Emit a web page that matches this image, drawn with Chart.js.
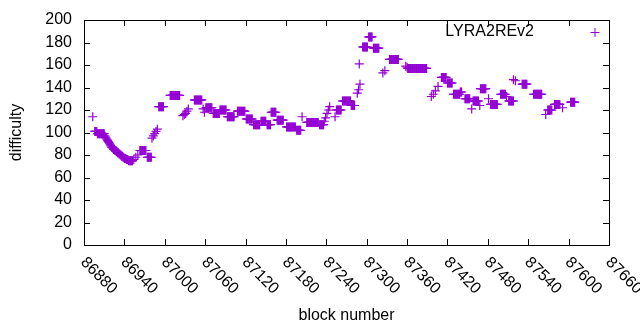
<!DOCTYPE html>
<html>
<head>
<meta charset="utf-8">
<script src="https://cdn.jsdelivr.net/npm/chart.js@4"></script>
<style>
  body { margin: 0; background: #fff; }
  canvas { display: block; }
</style>
</head>
<body>
<canvas id="chart" width="640" height="330"></canvas>
<script>
// block numbers and difficulty (one line per run)
var blocks = [
  86893,
  86896, 86897, 86898, 86899,
  86900, 86901, 86902, 86903, 86904, 86905, 86906, 86907, 86908, 86909, 86910,
  86911, 86912, 86913, 86914, 86915, 86916, 86917, 86918, 86919, 86920,
  86921, 86922, 86923, 86924, 86925, 86926, 86927, 86928, 86929, 86930,
  86931, 86932, 86933, 86934, 86935, 86936, 86937, 86938, 86939, 86940,
  86941, 86942, 86943, 86944, 86945, 86946, 86947, 86948, 86949, 86950, 86951, 86952,
  86954, 86957, 86960,
  86963, 86964, 86965, 86966, 86967, 86968, 86969, 86970, 86971, 86972,
  86974, 86975, 86976, 86977, 86978, 86979, 86980,
  86981, 86983, 86985, 86987, 86989,
  86991, 86992, 86993, 86994, 86995, 86996, 86997, 86998,
  87008, 87009, 87010, 87011, 87012, 87013, 87014, 87015, 87016, 87017, 87018, 87019, 87020, 87021, 87022,
  87027, 87029, 87031, 87033, 87035,
  87044, 87045, 87046, 87047, 87048, 87049, 87050, 87051, 87052, 87053, 87054, 87055,
  87057, 87059,
  87061, 87062, 87063, 87064, 87065, 87066, 87067, 87068, 87069, 87070,
  87072, 87073, 87074, 87075, 87076, 87077, 87078, 87079, 87080, 87081,
  87082, 87083, 87084, 87085, 87086, 87087, 87088, 87089, 87090, 87091,
  87093, 87094, 87095, 87096, 87097, 87098, 87099, 87100, 87101, 87102, 87103,
  87108, 87109, 87110, 87111, 87112, 87113, 87114, 87115, 87116, 87117, 87118, 87119,
  87121, 87122, 87123, 87124, 87125, 87126, 87127, 87128, 87129, 87130,
  87132, 87133, 87134, 87135, 87136, 87137, 87138, 87139, 87140, 87141,
  87143, 87144, 87145, 87146, 87147, 87148, 87149, 87150,
  87152, 87153, 87154, 87155, 87156, 87157,
  87158, 87159, 87160, 87161, 87162, 87163, 87164, 87165,
  87167, 87168, 87169, 87170, 87171, 87172, 87173, 87174, 87175, 87176,
  87181, 87182, 87183, 87184, 87185, 87186, 87187, 87188, 87189, 87190, 87191, 87192, 87193, 87194,
  87196, 87197, 87198, 87199, 87200, 87201, 87202,
  87204,
  87211, 87212, 87213, 87214, 87215, 87216, 87217, 87218, 87219, 87220,
  87221, 87222, 87223, 87224, 87225, 87226, 87227, 87228,
  87230, 87231, 87232, 87233, 87234, 87235, 87236,
  87237, 87239, 87241, 87243, 87245,
  87253,
  87255, 87256, 87257, 87258, 87259, 87260, 87261, 87262,
  87264, 87265, 87266, 87267, 87268, 87269, 87270, 87271, 87272, 87273, 87274, 87275, 87276,
  87277, 87278, 87279, 87280, 87281, 87282,
  87286, 87288, 87289, 87290,
  87294, 87295, 87296, 87297, 87298, 87299, 87300, 87301,
  87303, 87304, 87305, 87306, 87307, 87308,
  87310, 87311, 87312, 87313, 87314, 87315, 87316, 87317, 87318,
  87324, 87327,
  87334, 87335, 87336, 87337, 87338, 87339, 87340, 87341, 87342, 87343, 87344, 87345, 87346, 87347,
  87358, 87360,
  87361, 87362, 87363, 87364, 87365, 87366, 87367, 87368, 87369, 87370, 87371, 87372, 87373, 87374, 87375,
  87376, 87377, 87378, 87379, 87380, 87381, 87382, 87383, 87384, 87385, 87386, 87387, 87388, 87389,
  87396, 87399, 87402, 87406,
  87411, 87412, 87413, 87414, 87415, 87416, 87417, 87418,
  87420, 87421, 87422, 87423, 87424, 87425, 87426, 87427,
  87429, 87430, 87431, 87432, 87433, 87434, 87435, 87436, 87437, 87438,
  87439, 87440, 87441,
  87446, 87447, 87448, 87449, 87450, 87451, 87452, 87453,
  87456, 87468,
  87458, 87459, 87460, 87461, 87462, 87463, 87464, 87465, 87466,
  87469, 87470, 87471, 87472, 87473, 87474, 87475, 87476, 87477,
  87481,
  87484, 87485, 87486, 87487, 87488, 87489, 87490, 87491, 87492, 87493, 87494,
  87499, 87500, 87501, 87502, 87503, 87504, 87505, 87506,
  87508,
  87511, 87512, 87513, 87514, 87515, 87516, 87517, 87518,
  87518, 87521,
  87531, 87532, 87533, 87534, 87535, 87536, 87537, 87538,
  87548, 87549, 87550, 87551, 87552, 87553, 87554, 87555, 87556, 87557, 87558, 87559, 87560,
  87566,
  87569, 87570, 87571, 87572, 87573, 87574, 87575,
  87579, 87580, 87581, 87582, 87583, 87584, 87585, 87586, 87587,
  87591,
  87603, 87604, 87605, 87606, 87607, 87608, 87609
];
var difficulty = [
  114,
  101, 101, 101, 101,
  99, 99, 99, 99, 99, 99, 99, 99, 99, 99, 99,
  97, 96, 95, 94, 93, 92, 91, 90, 89, 88,
  87, 87, 86, 85, 85, 84, 84, 83, 83, 82,
  82, 81, 81, 80, 80, 79, 79, 78, 78, 77,
  77, 77, 76, 76, 76, 75, 75, 75, 75, 75, 75, 75,
  76, 78, 80,
  84, 84, 84, 84, 84, 84, 84, 84, 84, 84,
  78, 78, 78, 78, 78, 78, 78,
  95, 97, 99, 101, 103,
  123, 123, 123, 123, 123, 123, 123, 123,
  133, 133, 133, 133, 133, 133, 133, 133, 133, 133, 133, 133, 133, 133, 133,
  115, 116, 117, 119, 121,
  129, 129, 129, 129, 129, 129, 129, 129, 129, 129, 129, 129,
  121, 118,
  122, 122, 122, 122, 122, 122, 122, 122, 122, 122,
  117, 117, 117, 117, 117, 117, 117, 117, 117, 117,
  120, 120, 120, 120, 120, 120, 120, 120, 120, 120,
  114, 114, 114, 114, 114, 114, 114, 114, 114, 114, 114,
  119, 119, 119, 119, 119, 119, 119, 119, 119, 119, 119, 119,
  112, 112, 112, 112, 112, 112, 112, 112, 112, 112,
  107, 107, 107, 107, 107, 107, 107, 107, 107, 107,
  110, 110, 110, 110, 110, 110, 110, 110,
  107, 107, 107, 107, 107, 107,
  118, 118, 118, 118, 118, 118, 118, 118,
  111, 111, 111, 111, 111, 111, 111, 111, 111, 111,
  105, 105, 105, 105, 105, 105, 105, 105, 105, 105, 105, 105, 105, 105,
  102, 102, 102, 102, 102, 102, 102,
  114,
  109, 109, 109, 109, 109, 109, 109, 109, 109, 109,
  109, 109, 109, 109, 109, 109, 109, 109,
  107, 107, 107, 107, 107, 107, 107,
  110, 113, 117, 120, 123,
  114,
  120, 120, 120, 120, 120, 120, 120, 120,
  128, 128, 128, 128, 128, 128, 128, 128, 128, 128, 128, 128, 128,
  124, 124, 124, 124, 124, 124,
  135, 138, 161, 143,
  176, 176, 176, 176, 176, 176, 176, 176,
  185, 185, 185, 185, 185, 185,
  175, 175, 175, 175, 175, 175, 175, 175, 175,
  153, 155,
  165, 165, 165, 165, 165, 165, 165, 165, 165, 165, 165, 165, 165, 165,
  159, 158,
  157, 157, 157, 157, 157, 157, 157, 157, 157, 157, 157, 157, 157, 157, 157,
  157, 157, 157, 157, 157, 157, 157, 157, 157, 157, 157, 157, 157, 157,
  132, 134, 137, 141,
  149, 149, 149, 149, 149, 149, 149, 149,
  144, 144, 144, 144, 144, 144, 144, 144,
  134, 134, 134, 134, 134, 134, 134, 134, 134, 134,
  136, 136, 136,
  130, 130, 130, 130, 130, 130, 130, 130,
  121, 124,
  128, 128, 128, 128, 128, 128, 128, 128, 128,
  139, 139, 139, 139, 139, 139, 139, 139, 139,
  130,
  125, 125, 125, 125, 125, 125, 125, 125, 125, 125, 125,
  134, 134, 134, 134, 134, 134, 134, 134,
  132,
  128, 128, 128, 128, 128, 128, 128, 128,
  147, 146,
  143, 143, 143, 143, 143, 143, 143, 143,
  134, 134, 134, 134, 134, 134, 134, 134, 134, 134, 134, 134, 134,
  116,
  120, 120, 120, 120, 120, 120, 120,
  125, 125, 125, 125, 125, 125, 125, 125, 125,
  122,
  127, 127, 127, 127, 127, 127, 127
];
var xTicks = [86880, 86940, 87000, 87060, 87120, 87180, 87240, 87300, 87360, 87420, 87480, 87540, 87600, 87660];
var yTicks = [0, 20, 40, 60, 80, 100, 120, 140, 160, 180, 200];
var seriesName = "LYRA2REv2";

var violet = "#9400d3";
var font = "16px 'Liberation Sans', Arial, sans-serif";

var points = blocks.map(function (b, i) {
  return { x: b, y: difficulty[i] };
});

// gnuplot style frame, ticks, labels and key
var gnuplotFrame = {
  id: "gnuplotFrame",
  afterDraw: function (chart) {
    var ctx = chart.ctx;
    var a = chart.chartArea;
    var xs = chart.scales.x;
    var ys = chart.scales.y;
    ctx.save();
    ctx.strokeStyle = "#000";
    ctx.lineWidth = 1;
    ctx.strokeRect(a.left + 0.5, a.top + 0.5, a.right - a.left, a.bottom - a.top);

    ctx.beginPath();
    yTicks.forEach(function (v) {
      var y = Math.round(ys.getPixelForValue(v)) + 0.5;
      ctx.moveTo(a.left, y); ctx.lineTo(a.left + 6, y);
      ctx.moveTo(a.right, y); ctx.lineTo(a.right - 6, y);
    });
    xTicks.forEach(function (v) {
      var x = Math.round(xs.getPixelForValue(v)) + 0.5;
      ctx.moveTo(x, a.bottom); ctx.lineTo(x, a.bottom - 6);
      ctx.moveTo(x, a.top); ctx.lineTo(x, a.top + 6);
    });
    ctx.stroke();

    ctx.fillStyle = "#000";
    ctx.font = font;
    ctx.textAlign = "right";
    ctx.textBaseline = "middle";
    yTicks.forEach(function (v) {
      ctx.fillText(String(v), a.left - 12, ys.getPixelForValue(v));
    });

    ctx.textAlign = "left";
    xTicks.forEach(function (v) {
      ctx.save();
      ctx.translate(xs.getPixelForValue(v) - 1, a.bottom + 15);
      ctx.rotate(Math.PI / 4);
      ctx.fillText(String(v), 0, 0);
      ctx.restore();
    });

    ctx.textAlign = "center";
    ctx.fillText("block number", (a.left + a.right) / 2, 316);
    ctx.save();
    ctx.translate(17, (a.top + a.bottom) / 2);
    ctx.rotate(-Math.PI / 2);
    ctx.fillText("difficulty", 0, 0);
    ctx.restore();

    // key
    ctx.textAlign = "right";
    ctx.fillText(seriesName, 534, 32);
    ctx.strokeStyle = violet;
    ctx.beginPath();
    ctx.moveTo(590.5, 32.5); ctx.lineTo(599.5, 32.5);
    ctx.moveTo(595, 28); ctx.lineTo(595, 37);
    ctx.stroke();
    ctx.restore();
  }
};

var ctx = document.getElementById("chart").getContext("2d");
var myChart = new Chart(ctx, {
  type: "scatter",
  data: {
    datasets: [
      {
        label: seriesName,
        data: points,
        pointStyle: "cross",
        pointRadius: 4.5,
        pointHoverRadius: 4.5,
        borderColor: violet,
        backgroundColor: violet,
        borderWidth: 1.2,
      },
    ],
  },
  options: {
    responsive: false,
    animation: false,
    events: [],
    layout: { padding: { left: 84, top: 20, right: 31, bottom: 85 } },
    plugins: { legend: { display: false }, tooltip: { enabled: false } },
    scales: {
      x: { type: "linear", min: 86880, max: 87660, display: false },
      y: { type: "linear", min: 0, max: 200, display: false },
    },
  },
  plugins: [gnuplotFrame],
});
</script>
</body>
</html>
